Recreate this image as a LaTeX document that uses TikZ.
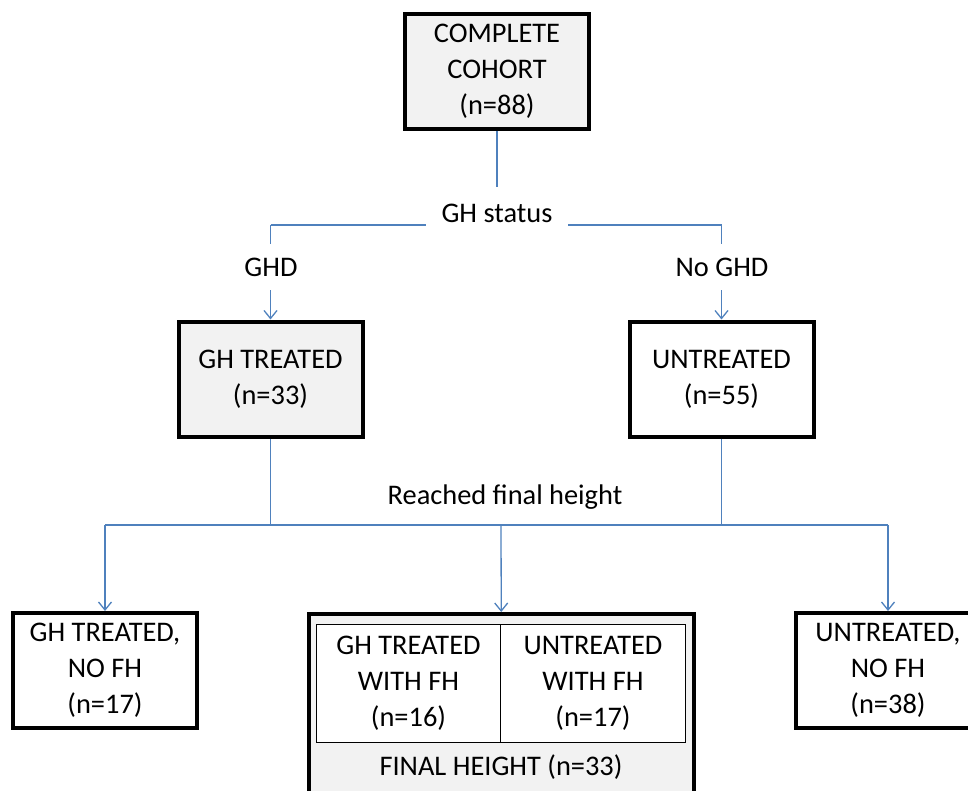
\documentclass[tikz,border=0pt]{standalone}
\usepackage{fontspec}
\setmainfont{Carlito}
\usetikzlibrary{arrows.meta}

\definecolor{linkblue}{HTML}{4F81BD}
\definecolor{boxgray}{HTML}{F2F2F2}

\tikzset{
  txt/.style={font=\fontsize{14.2}{18}\selectfont, text=black},
  box/.style={txt, draw=black, line width=2pt, align=center, inner sep=0pt,
    minimum width=92pt, minimum height=57.5pt},
  greybox/.style={box, fill=boxgray},
  cell/.style={txt, draw=black, line width=0.5pt, fill=white, align=center,
    inner sep=0pt, minimum width=92.5pt, minimum height=59pt},
  link/.style={draw=linkblue, line width=0.65pt},
  arr/.style={link, -{Straight Barb[length=4pt,width=6.5pt]}},
  lbl/.style={txt, fill=white, inner xsep=5pt, inner ysep=0pt}
}

\begin{document}
\begin{tikzpicture}[x=0.5pt,y=-0.5pt]
\clip (0,0) rectangle (968,791);

\node [greybox] (cohort) at (497,71.5) {COMPLETE\\COHORT\\(n=88)};

\node [greybox] (treated) at (270.5,379) {GH TREATED\\(n=33)};
\node [box] (untreated) at (721.5,379) {UNTREATED\\(n=55)};

\node [box] (treatednofh) at (105,670.5) {GH TREATED,\\NO FH\\(n=17)};
\node [box] (untreatednofh) at (888,670.5) {UNTREATED,\\NO FH\\(n=38)};

% final height group
\node [greybox, minimum width=192.5pt, minimum height=92pt] (fh) at (501.5,706) {};
\node [cell] (fhtreated) at (408.5,683) {GH TREATED\\WITH FH\\(n=16)};
\node [cell] (fhuntreated) at (593,683) {UNTREATED\\WITH FH\\(n=17)};
\node [txt] (fhlabel) at (501,767) {FINAL HEIGHT (n=33)};

\coordinate (split) at (497,225);
\coordinate (join) at (501,525);

\draw [link] (cohort) -- (split);
\draw [link] (split -| treated) -- (split -| untreated);
\draw [arr] (split -| treated) -- (treated);
\draw [arr] (split -| untreated) -- (untreated);

\draw [link] (treated) -- (treated |- join);
\draw [link] (untreated) -- (untreated |- join);
\draw [link] (join -| treatednofh) -- (join -| untreatednofh);
\draw [arr] (join -| treatednofh) -- (treatednofh);
\draw [arr] (join) -- (fh);
\draw [arr] (join -| untreatednofh) -- (untreatednofh);

\node [lbl, minimum width=71pt, minimum height=26pt] (ghstatus) at (497,213) {GH status};
\node [lbl, minimum height=23pt] (ghd) at (271,267) {GHD};
\node [lbl, minimum height=23pt] (noghd) at (722,267) {No GHD};
\node [txt] (reached) at (505,497) {Reached final height};

\end{tikzpicture}
\end{document}
